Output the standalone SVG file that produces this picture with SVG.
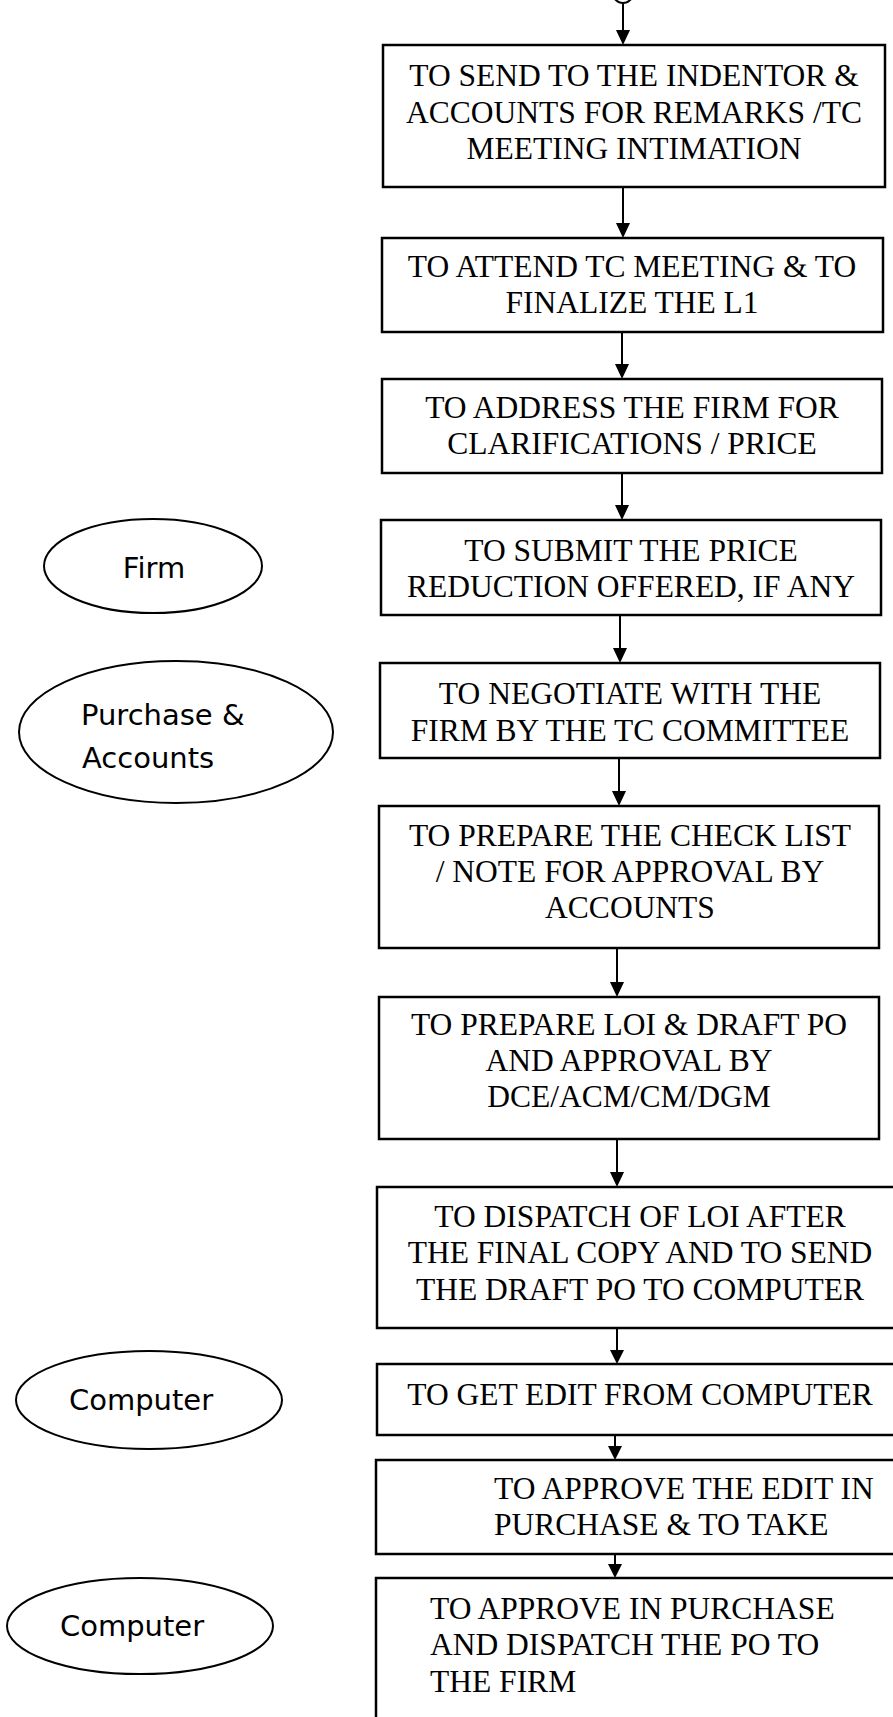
<svg xmlns="http://www.w3.org/2000/svg" width="893" height="1717" viewBox="0 0 893 1717">
<defs>
<style>
.box{fill:#fff;stroke:#000;stroke-width:2.5}
.ell{fill:#fff;stroke:#000;stroke-width:2}
.t{font-family:"Liberation Serif","Times New Roman",serif;font-size:31.5px;fill:#000;text-anchor:middle}
.tl{font-family:"Liberation Serif","Times New Roman",serif;font-size:31.5px;fill:#000;text-anchor:start}
.e{font-family:"Comic Sans MS","DejaVu Sans",sans-serif;font-size:29px;fill:#000;text-anchor:middle}
.el{font-family:"Comic Sans MS","DejaVu Sans",sans-serif;font-size:29px;fill:#000;text-anchor:start}
.c{stroke:#000;stroke-width:2;fill:none}
</style>
<marker id="ah" markerWidth="14" markerHeight="15" refX="7" refY="15" orient="auto-start-reverse" markerUnits="userSpaceOnUse" viewBox="0 0 14 15">
<path d="M0,0 L14,0 L7,15 Z" fill="#000"/>
</marker>
</defs>
<rect width="893" height="1717" fill="#fff"/>

<g id="connectors">
<path class="c" d="M613,-7 A10,10 0 0 0 633,-7"/>
<line class="c" x1="623" y1="3" x2="623" y2="30"/>
<path d="M616,30 L630,30 L623,45 Z"/>
<line class="c" x1="623" y1="187" x2="623" y2="223"/>
<path d="M616,223 L630,223 L623,238 Z"/>
<line class="c" x1="622" y1="332" x2="622" y2="364"/>
<path d="M615,364 L629,364 L622,379 Z"/>
<line class="c" x1="622" y1="473" x2="622" y2="505"/>
<path d="M615,505 L629,505 L622,520 Z"/>
<line class="c" x1="620" y1="615" x2="620" y2="648"/>
<path d="M613,648 L627,648 L620,663 Z"/>
<line class="c" x1="619" y1="758" x2="619" y2="791"/>
<path d="M612,791 L626,791 L619,806 Z"/>
<line class="c" x1="617" y1="948" x2="617" y2="982"/>
<path d="M610,982 L624,982 L617,997 Z"/>
<line class="c" x1="617" y1="1139" x2="617" y2="1172"/>
<path d="M610,1172 L624,1172 L617,1187 Z"/>
<line class="c" x1="617" y1="1328" x2="617" y2="1350"/>
<path d="M610,1350 L624,1350 L617,1364 Z"/>
<line class="c" x1="615" y1="1435" x2="615" y2="1447"/>
<path d="M608,1446 L622,1446 L615,1460 Z"/>
<line class="c" x1="615" y1="1554" x2="615" y2="1565"/>
<path d="M608,1564 L622,1564 L615,1578 Z"/>
</g>

<g id="n1">
<rect class="box" x="383" y="45" width="502" height="142"/>
<text class="t" x="634" y="86">TO SEND TO THE INDENTOR &amp;</text>
<text class="t" x="634" y="122.5">ACCOUNTS FOR REMARKS /TC</text>
<text class="t" x="634" y="159">MEETING INTIMATION</text>
</g>

<g id="n2">
<rect class="box" x="382" y="238" width="501" height="94"/>
<text class="t" x="632" y="277">TO ATTEND TC MEETING &amp; TO</text>
<text class="t" x="632" y="313">FINALIZE THE L1</text>
</g>

<g id="n3">
<rect class="box" x="382" y="379" width="500" height="94"/>
<text class="t" x="632" y="418">TO ADDRESS THE FIRM FOR</text>
<text class="t" x="632" y="454">CLARIFICATIONS / PRICE</text>
</g>

<g id="n4">
<rect class="box" x="381" y="520" width="500" height="95"/>
<text class="t" x="631" y="561">TO SUBMIT THE PRICE</text>
<text class="t" x="631" y="597">REDUCTION OFFERED, IF ANY</text>
</g>

<g id="n5">
<rect class="box" x="380" y="663" width="500" height="95"/>
<text class="t" x="630" y="704">TO NEGOTIATE WITH THE</text>
<text class="t" x="630" y="741">FIRM BY THE TC COMMITTEE</text>
</g>

<g id="n6">
<rect class="box" x="379" y="806" width="500" height="142"/>
<text class="t" x="630" y="846">TO PREPARE THE CHECK LIST</text>
<text class="t" x="630" y="882">/ NOTE FOR APPROVAL BY</text>
<text class="t" x="630" y="918">ACCOUNTS</text>
</g>

<g id="n7">
<rect class="box" x="379" y="997" width="500" height="142"/>
<text class="t" x="629" y="1035">TO PREPARE LOI &amp; DRAFT PO</text>
<text class="t" x="629" y="1071">AND APPROVAL BY</text>
<text class="t" x="629" y="1107">DCE/ACM/CM/DGM</text>
</g>

<g id="n8">
<rect class="box" x="377" y="1187" width="530" height="141"/>
<text class="t" x="640" y="1227">TO DISPATCH OF LOI AFTER</text>
<text class="t" x="640" y="1263">THE FINAL COPY AND TO SEND</text>
<text class="t" x="640" y="1300">THE DRAFT PO TO COMPUTER</text>
</g>

<g id="n9">
<rect class="box" x="377" y="1364" width="530" height="71"/>
<text class="t" x="640" y="1405">TO GET EDIT FROM COMPUTER</text>
</g>

<g id="n10">
<rect class="box" x="376" y="1460" width="530" height="94"/>
<text class="tl" x="494" y="1499">TO APPROVE THE EDIT IN</text>
<text class="tl" x="494" y="1535">PURCHASE &amp; TO TAKE</text>
</g>

<g id="n11">
<rect class="box" x="376" y="1578" width="530" height="160"/>
<text class="tl" x="430" y="1619">TO APPROVE IN PURCHASE</text>
<text class="tl" x="430" y="1655">AND DISPATCH THE PO TO</text>
<text class="tl" x="430" y="1692">THE FIRM</text>
</g>

<g id="e1">
<ellipse class="ell" cx="153" cy="566" rx="109" ry="47"/>
<text class="e" x="154" y="578">Firm</text>
</g>

<g id="e2">
<ellipse class="ell" cx="176" cy="732" rx="157" ry="71"/>
<text class="el" x="81" y="725">Purchase &amp;</text>
<text class="el" x="82" y="768">Accounts</text>
</g>

<g id="e3">
<ellipse class="ell" cx="149" cy="1400" rx="133" ry="49"/>
<text class="e" x="141" y="1410">Computer</text>
</g>

<g id="e4">
<ellipse class="ell" cx="140" cy="1626" rx="133" ry="48"/>
<text class="e" x="132" y="1636">Computer</text>
</g>
</svg>
